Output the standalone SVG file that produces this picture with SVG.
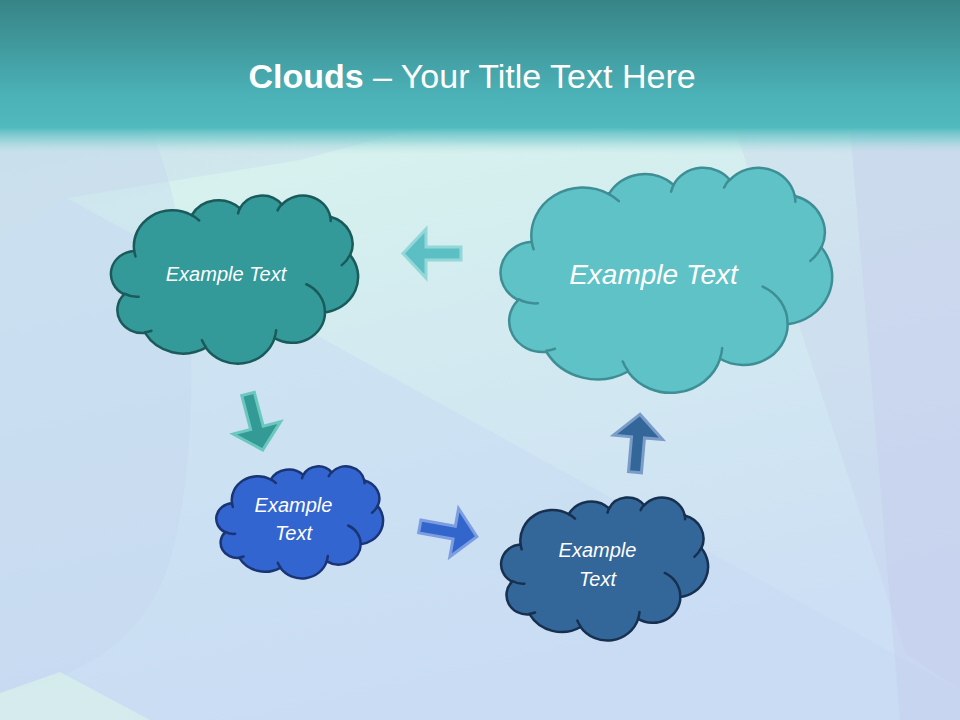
<svg xmlns="http://www.w3.org/2000/svg" xmlns:xlink="http://www.w3.org/1999/xlink" width="960" height="720" viewBox="0 0 960 720">
  <style>
    .cloud-out { stroke-width: 2.5; stroke-linejoin: round; }
    .cloud-in { fill: none; stroke-width: 2.5; stroke-linecap: round; }
    .lbl { font-family: "Liberation Sans", Arial, sans-serif; font-style: italic; fill: #ffffff; text-anchor: middle; }
    .title { font-family: "Liberation Sans", Arial, sans-serif; fill: #ffffff; text-anchor: middle; font-size: 34px; }
    .arrow { stroke-width: 3; stroke-linejoin: miter; }
  </style>
  <defs>
    <linearGradient id="hdr" x1="0" y1="0" x2="0" y2="1">
      <stop offset="0" stop-color="#378486"/>
      <stop offset="0.75" stop-color="#4bb2b7"/>
      <stop offset="1" stop-color="#51babf"/>
    </linearGradient>
    <linearGradient id="fade" x1="0" y1="0" x2="0" y2="1">
      <stop offset="0" stop-color="#55bcc0" stop-opacity="1"/>
      <stop offset="0.5" stop-color="#7fcdcf" stop-opacity="0.6"/>
      <stop offset="1" stop-color="#b5e2e2" stop-opacity="0"/>
    </linearGradient>
    <linearGradient id="body" x1="0" y1="0" x2="0.3" y2="1">
      <stop offset="0" stop-color="#c8ebe8"/>
      <stop offset="0.3" stop-color="#d6f1ee"/>
      <stop offset="1" stop-color="#cddff4"/>
    </linearGradient>
    <path id="cloudOutline" vector-effect="non-scaling-stroke" d="M9.03 33.26 A15.63 21.27 0 0 1 32.42 12.04 A12.34 16.82 0 0 1 51.98 7.95 A10.10 13.76 0 0 1 69.06 5.75 A11.24 15.27 0 0 1 88.70 12.91 A12.34 16.84 0 0 1 96.81 35.79 A15.68 21.34 0 0 1 86.59 69.91 A13.39 18.21 0 0 1 66.10 85.22 A15.63 21.33 0 0 1 38.15 90.90 A17.87 24.41 0 0 1 13.43 82.11 A10.09 13.70 0 0 1 4.89 59.15 A10.06 13.76 0 0 1 9.03 33.26 Z"/>
    <path id="cloudInner" vector-effect="non-scaling-stroke" d="M10.86 60.59 A10.06 13.76 0 0 1 5.00 58.75 M16.04 80.78 A10.09 13.70 0 0 1 13.47 81.67 M38.14 90.49 A15.63 21.33 0 0 1 36.59 86.45 M66.73 80.44 A15.63 21.33 0 0 1 66.11 84.86 M79.00 53.13 A13.39 18.21 0 0 1 86.53 69.65 M96.75 35.54 A12.34 16.84 0 0 1 93.41 41.73 M88.71 12.56 A11.24 15.27 0 0 1 88.89 15.49 M67.31 9.15 A11.24 15.27 0 0 1 69.03 5.42 M51.25 10.93 A10.10 13.76 0 0 1 52.08 7.71 M32.41 12.02 A15.63 21.27 0 0 1 35.42 15.15 M9.55 36.55 A15.63 21.27 0 0 1 9.03 33.26"/>
    <path id="arrowShape" d="M-29,-6.5 L6,-6.5 L6,-24.5 L29,0 L6,24.5 L6,6.5 L-29,6.5 Z"/>
  </defs>

  <!-- background -->
  <g id="background">
    <rect x="0" y="0" width="960" height="720" fill="url(#body)"/>
    <polygon points="0,128 420,128 300,160 67,198 0,235" fill="#c2d2ec" opacity="0.3"/>
    <polygon points="67,198 960,690 960,720 0,720 0,235" fill="#c6d9f4" opacity="0.45"/>
    <path d="M150,128 C205,250 200,480 165,575 C140,640 80,680 0,693 L0,128 Z" fill="#c2d4ee" opacity="0.35"/>
    <polygon points="0,693 60,672 150,720 0,720" fill="#dcf5ea" opacity="0.6"/>
    <polygon points="735,128 960,128 960,690 906,654" fill="#c6cdec" opacity="0.3"/>
    <polygon points="850,128 960,128 960,720 900,720" fill="#c4c8ea" opacity="0.3"/>
    <rect x="0" y="0" width="960" height="128" fill="url(#hdr)"/>
    <rect x="0" y="128" width="960" height="26" fill="url(#fade)"/>
  </g>

  <text class="title" x="472" y="88"><tspan font-weight="bold">Clouds</tspan> – Your Title Text Here</text>

  <!-- connectors -->
  <g id="connectors">
    <use xlink:href="#arrowShape" class="arrow" transform="translate(432,253.5) rotate(180)" fill="#5cbfc4" stroke="#93d7d9"/>
    <use xlink:href="#arrowShape" class="arrow" transform="translate(255.4,422) rotate(75.3)" fill="#339a96" stroke="#6cc8bf"/>
    <use xlink:href="#arrowShape" class="arrow" transform="translate(448.3,531.6) rotate(10.2)" fill="#3366cc" stroke="#7c9ee0"/>
    <use xlink:href="#arrowShape" class="arrow" transform="translate(637.5,443.3) rotate(-85)" fill="#336699" stroke="#7a9cc8"/>
  </g>

  <!-- nodes -->
  <g id="cloud1">
    <g transform="translate(112,195) scale(2.46,1.68)">
      <use xlink:href="#cloudOutline" class="cloud-out" fill="#339999" stroke="#1b5a5b"/>
      <use xlink:href="#cloudInner" class="cloud-in" stroke="#1b5a5b"/>
    </g>
    <text class="lbl" x="226" y="281" font-size="20">Example Text</text>
  </g>

  <g id="cloud2">
    <g transform="translate(502,167) scale(3.30,2.25)">
      <use xlink:href="#cloudOutline" class="cloud-out" fill="#5fc2c6" stroke="#3d8f95"/>
      <use xlink:href="#cloudInner" class="cloud-in" stroke="#3d8f95"/>
    </g>
    <text class="lbl" x="653.5" y="284" font-size="28">Example Text</text>
  </g>

  <g id="cloud3">
    <g transform="translate(217,466) scale(1.66,1.12)">
      <use xlink:href="#cloudOutline" class="cloud-out" fill="#3265d0" stroke="#1a3575"/>
      <use xlink:href="#cloudInner" class="cloud-in" stroke="#1a3575"/>
    </g>
    <text class="lbl" x="293.5" y="511.5" font-size="20">Example</text>
    <text class="lbl" x="293.5" y="540" font-size="20">Text</text>
  </g>

  <g id="cloud4">
    <g transform="translate(502,497) scale(2.06,1.43)">
      <use xlink:href="#cloudOutline" class="cloud-out" fill="#336699" stroke="#17304f"/>
      <use xlink:href="#cloudInner" class="cloud-in" stroke="#17304f"/>
    </g>
    <text class="lbl" x="597.5" y="557" font-size="20">Example</text>
    <text class="lbl" x="597.5" y="586" font-size="20">Text</text>
  </g>
</svg>
